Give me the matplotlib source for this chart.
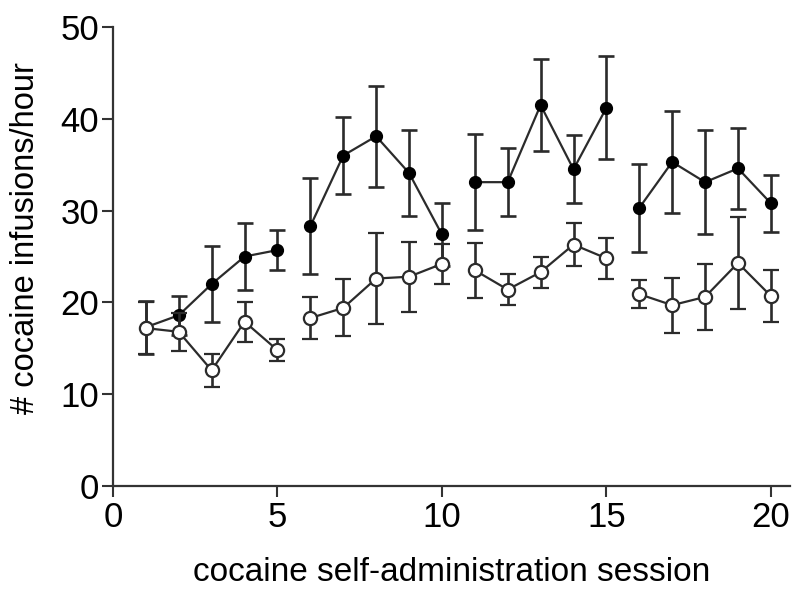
import matplotlib
matplotlib.use("Agg")
import matplotlib.pyplot as plt
import numpy as np

plt.rcParams['font.family'] = ['Liberation Sans', 'DejaVu Sans']

sessions = np.arange(1, 21)
filled_mean = [17.3, 18.6, 22.0, 25.0, 25.7, 28.3, 36.0, 38.1, 34.1, 27.4,
               33.1, 33.1, 41.5, 34.5, 41.2, 30.3, 35.3, 33.1, 34.6, 30.8]
filled_err = [2.9, 2.1, 4.1, 3.7, 2.2, 5.2, 4.2, 5.5, 4.7, 3.4,
              5.2, 3.7, 5.0, 3.7, 5.6, 4.8, 5.6, 5.7, 4.4, 3.1]
open_mean = [17.2, 16.8, 12.6, 17.9, 14.8, 18.3, 19.4, 22.6, 22.8, 24.2,
             23.5, 21.4, 23.3, 26.3, 24.8, 20.9, 19.7, 20.6, 24.3, 20.7]
open_err = [2.8, 2.1, 1.8, 2.2, 1.2, 2.3, 3.1, 5.0, 3.8, 2.2,
            3.0, 1.7, 1.7, 2.3, 2.2, 1.5, 3.0, 3.6, 5.0, 2.8]
segments = [(0, 5), (5, 10), (10, 15), (15, 20)]
xticks = [0, 5, 10, 15, 20]
yticks = [0, 10, 20, 30, 40, 50]

fig = plt.figure(figsize=(7.94, 5.99), dpi=100)
ax = fig.add_axes([0.1423, 0.1886, 0.8526, 0.7663])

lc = '#2b2b2b'
for s, e in segments:
    x = sessions[s:e]
    ax.errorbar(x, filled_mean[s:e], yerr=filled_err[s:e], fmt='o', color=lc,
                ecolor=lc, elinewidth=1.9, capsize=5.5, capthick=1.9,
                markersize=8.5, markerfacecolor='black', markeredgecolor='black',
                linestyle='-', linewidth=1.6, zorder=2)
    ax.errorbar(x, open_mean[s:e], yerr=open_err[s:e], fmt='o', color=lc,
                ecolor=lc, elinewidth=1.9, capsize=5.5, capthick=1.9,
                markersize=9.5, markerfacecolor='white', markeredgecolor=lc,
                markeredgewidth=1.6, linestyle='-', linewidth=1.6, zorder=3)

ax.set_xlim(0, 20.58)
ax.set_ylim(0, 50)
ax.set_xticks(xticks)
ax.set_yticks(yticks)
for side in ['top', 'right']:
    ax.spines[side].set_visible(False)
for side in ['left', 'bottom']:
    ax.spines[side].set_linewidth(1.6)
    ax.spines[side].set_color('#333333')
ax.tick_params(axis='both', direction='out', length=8, width=1.5,
               color='#333333', labelsize=25)
ax.tick_params(axis='y', pad=2)
ax.tick_params(axis='x', pad=3)
ax.set_xlabel('cocaine self-administration session', fontsize=24, labelpad=16)
ax.set_ylabel('# cocaine infusions/hour', fontsize=23.5)
ax.yaxis.set_label_coords(-0.107, 0.54)

fig.savefig('out.png', dpi=100)
